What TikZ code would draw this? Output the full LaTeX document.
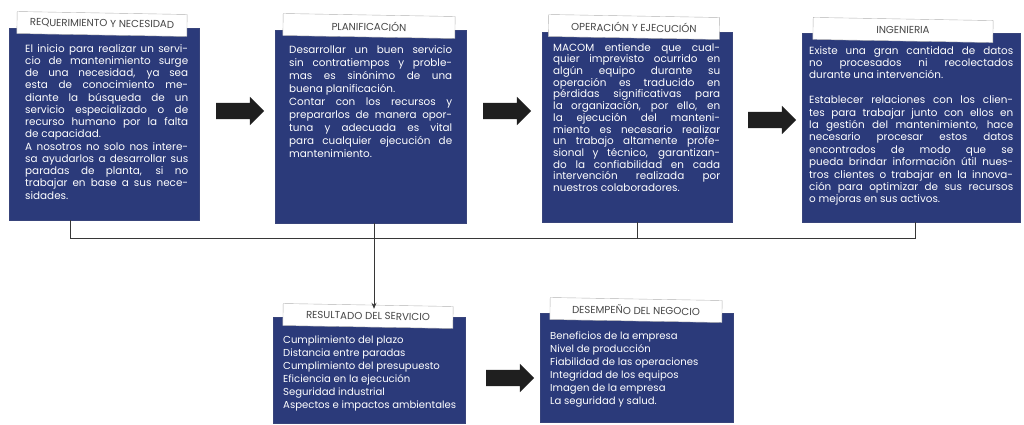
\documentclass[tikz,border=0pt]{standalone}
\usepackage{fontspec}
\setmainfont{Poppins}
\definecolor{panelblue}{RGB}{43,58,122}
\definecolor{linegray}{RGB}{55,55,55}
\definecolor{capgray}{RGB}{70,70,70}
\usetikzlibrary{arrows.meta,positioning,shapes.arrows,calc}

\begin{document}
\begin{tikzpicture}[x=1pt,y=-1pt,
  panel/.style={fill=panelblue,draw=panelblue!85!gray,anchor=north west,inner sep=0pt},
  body/.style={anchor=north west,inner sep=0pt,text=white,align=justify,
    execute at begin node={\hyphenpenalty=10000 },font=\fontsize{10.4}{12.25}\selectfont},
  list/.style={anchor=north west,inner sep=0pt,text=white,align=left,
    font=\fontsize{10.1}{12.9}\selectfont},
  caption/.style={draw=gray!60,fill=white,rotate=-1,minimum height=22pt,inner sep=0pt,
    text=capgray,font=\fontsize{10.2}{12}\selectfont},
  blockarrow/.style={single arrow,fill=black!88,inner xsep=0pt,inner ysep=8pt,
    minimum height=48pt,single arrow head extend=6pt},
  link/.style={draw=linegray,line width=0.8pt}]
  \useasboundingbox (0,0) rectangle (1024,425);
  % panels
  \node[panel,minimum width=190pt,minimum height=192pt] (b1) at (9,28) {};
  \node[panel,minimum width=191pt,minimum height=193pt] (b2) at (275,30) {};
  \node[panel,minimum width=190pt,minimum height=190pt] (b3) at (542,32) {};
  \node[panel,minimum width=218pt,minimum height=189pt] (b4) at (802,33) {};
  \node[panel,minimum width=192pt,minimum height=106pt] (b5) at (273,317) {};
  \node[panel,minimum width=193pt,minimum height=109pt] (b6) at (540,313) {};
  % captions
  \node[caption,minimum width=170pt] (t1) at (102,24) {REQUERIMIENTO Y NECESIDAD};
  \node[caption,minimum width=172pt] (t2) at (369,26) {PLANIFICACIÓN};
  \node[caption,minimum width=171pt] (t3) at (634,27) {OPERACIÓN Y EJECUCIÓN};
  \node[caption,minimum width=180pt] (t4) at (903,30) {INGENIERIA};
  \node[caption,minimum width=170pt] (t5) at (368,316) {RESULTADO DEL SERVICIO};
  \node[caption,minimum width=172pt] (t6) at (636,310) {DESEMPEÑO DEL NEGOCIO};
  % texts
  \node[body,text width=163pt] (x1) at (25,44) {El inicio para realizar un servi-\linebreak
    cio de mantenimiento surge\linebreak de una necesidad, ya sea\linebreak
    esta de conocimiento me-\linebreak diante la búsqueda de un\linebreak
    servicio especializado o de\linebreak recurso humano por la falta\linebreak
    de capacidad.\par A nosotros no solo nos intere-\linebreak
    sa ayudarlos a desarrollar sus\linebreak paradas de planta, si no\linebreak
    trabajar en base a sus nece-\linebreak sidades.};
  \node[body,text width=163pt,font=\fontsize{10.4}{13.1}\selectfont] (x2) at (289,45) {Desarrollar un buen servicio\linebreak
    sin contratiempos y proble-\linebreak mas es sinónimo de una\linebreak
    buena planificación.\par Contar con los recursos y\linebreak
    prepararlos de manera opor-\linebreak tuna y adecuada es vital\linebreak
    para cualquier ejecución de\linebreak mantenimiento.};
  \node[body,text width=167pt,font=\fontsize{10.4}{11.7}\selectfont] (x3) at (553,43) {MACOM entiende que cual-\linebreak
    quier imprevisto ocurrido en\linebreak algún equipo durante su\linebreak
    operación es traducido en\linebreak pérdidas significativas para\linebreak
    la organización, por ello, en\linebreak la ejecución del manteni-\linebreak
    miento es necesario realizar\linebreak un trabajo altamente profe-\linebreak
    sional y técnico, garantizan-\linebreak do la confiabilidad en cada\linebreak
    intervención realizada por\linebreak nuestros colaboradores.};
  \node[body,text width=204pt,font=\fontsize{10.4}{12.4}\selectfont] (x4) at (809,46) {Existe una gran cantidad de datos\linebreak
    no procesados ni recolectados\linebreak durante una intervención.\par\vspace{12.4pt}
    Establecer relaciones con los clien-\linebreak tes para trabajar junto con ellos en\linebreak
    la gestión del mantenimiento, hace\linebreak necesario procesar estos datos\linebreak
    encontrados de modo que se\linebreak pueda brindar información útil nues-\linebreak
    tros clientes o trabajar en la innova-\linebreak ción para optimizar de sus recursos\linebreak
    o mejoras en sus activos.};
  \node[list] (x5) at (283,336) {Cumplimiento del plazo\\ Distancia entre paradas\\
    Cumplimiento del presupuesto\\ Eficiencia en la ejecución\\
    Seguridad industrial\\ Aspectos e impactos ambientales};
  \node[list] (x6) at (550,332) {Beneficios de la empresa\\ Nivel de producción\\
    Fiabilidad de las operaciones\\ Integridad de los equipos\\
    Imagen de la empresa\\ La seguridad y salud.};
  % block arrows
  \node[blockarrow] (a1) at (236,111) {};
  \node[blockarrow] (a2) at (503,111) {};
  \node[blockarrow] (a3) at (768,120) {};
  \node[blockarrow] (a4) at (506,378) {};
  % connectors
  \coordinate (j1) at (70,238);
  \coordinate (j2) at (374,238);
  \coordinate (j3) at (637,238);
  \coordinate (j4) at (915,238);
  \draw[link] (b1.south -| j1) -- (j1) -- (j4) -- (b4.south -| j4);
  \draw[link] (b3.south -| j3) -- (j3);
  \draw[link,-{Stealth[length=6pt,width=5pt]}] (b2.south -| j2) -- ([yshift=-4pt]t5.north -| j2);
\end{tikzpicture}
\end{document}
